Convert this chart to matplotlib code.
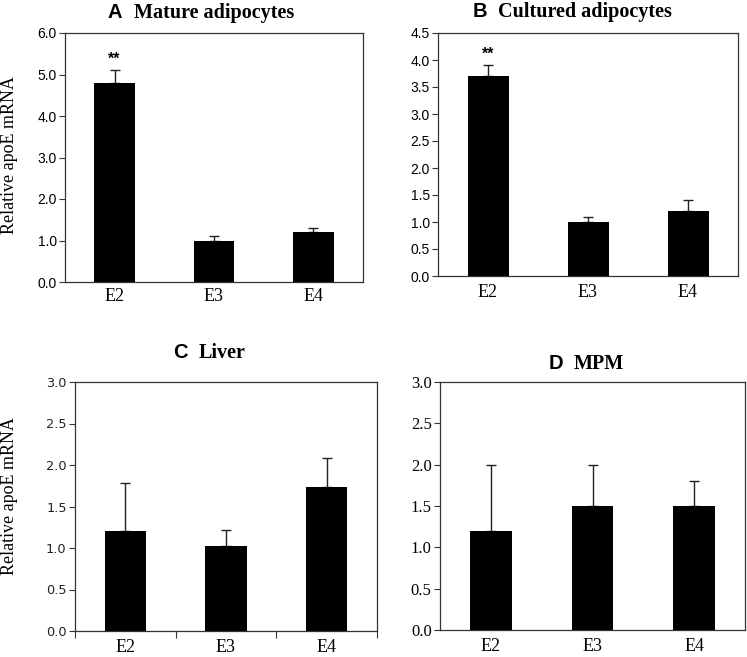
import matplotlib
matplotlib.use("Agg")
import matplotlib.pyplot as plt
import numpy as np

groups = ["E2", "E3", "E4"]
mature_vals = [4.8, 1.0, 1.2]
mature_err = [0.3, 0.1, 0.1]
cultured_vals = [3.7, 1.0, 1.2]
cultured_err = [0.2, 0.1, 0.2]
liver_vals = [1.2, 1.02, 1.73]
liver_err = [0.58, 0.2, 0.36]
mpm_vals = [1.2, 1.5, 1.5]
mpm_err = [0.8, 0.5, 0.3]

W, H = 747, 657
fig = plt.figure(figsize=(W / 100, H / 100), dpi=100)

def px_axes(l, r, t, b):
    return fig.add_axes([l / W, 1 - b / H, (r - l) / W, (b - t) / H])

def fx(x):
    return x / W

def fy(y):
    return 1 - y / H

SERIF = "Liberation Serif"
SANS = "Liberation Sans"

def panel(ax, vals, errs, ymax, step, tickfont, ticksize, xpad, xticks_marks=False,
          stars=False, tickcolor="black"):
    x = np.arange(len(groups))
    ax.bar(x, vals, width=0.41, color="black", zorder=3)
    ax.errorbar(x, vals, yerr=[np.zeros(len(vals)), errs], fmt="none",
                ecolor="#222222", elinewidth=1.0, capsize=3.5, capthick=1.0, zorder=2)
    ax.set_xlim(-0.5, 2.5)
    ax.set_ylim(0, ymax)
    yt = np.arange(0, ymax + step / 2, step)
    ax.set_yticks(yt)
    ax.set_yticklabels([f"{v:.1f}" for v in yt], fontfamily=tickfont, fontsize=ticksize, color=tickcolor)
    ax.tick_params(axis="y", direction="out", length=4, width=0.8, pad=2, color="#333333")
    ax.set_xticks(x)
    ax.set_xticklabels(groups, fontfamily=SERIF, fontsize=13)
    ax.tick_params(axis="x", length=0, pad=xpad)
    if xticks_marks:
        ax.set_xticks([-0.5, 0.5, 1.5, 2.5], minor=True)
        ax.tick_params(axis="x", which="minor", direction="out", length=5, width=0.8, color="#333333")
    for s in ax.spines.values():
        s.set_linewidth(0.9)
        s.set_color("#333333")
    if stars:
        ax.text(0, vals[0] + errs[0] + ymax * 0.015, "**", ha="center", va="bottom",
                fontfamily=SANS, fontsize=11.5, fontweight="bold")

axA = px_axes(65, 363, 33, 282)
panel(axA, mature_vals, mature_err, 6.0, 1.0, SANS, 10, 4.0, stars=True)
axB = px_axes(438, 738, 33, 276)
panel(axB, cultured_vals, cultured_err, 4.5, 0.5, SANS, 10, 5.5, stars=True)
axC = px_axes(75, 377, 382, 631)
panel(axC, liver_vals, liver_err, 3.0, 0.5, "DejaVu Sans", 9.3, 5.5, xticks_marks=True, tickcolor="#222222")
axD = px_axes(440, 745, 382, 630)
panel(axD, mpm_vals, mpm_err, 3.0, 0.5, SERIF, 12, 5.5)

def title(letter, name, xr, xl, ybase):
    fig.text(fx(xr), fy(ybase), letter, ha="right", va="baseline",
             fontfamily=SANS, fontweight="bold", fontsize=14.5)
    fig.text(fx(xl), fy(ybase), name, ha="left", va="baseline",
             fontfamily=SERIF, fontweight="bold", fontsize=14.5)

title("A", "Mature adipocytes", 122, 134, 18)
title("B", "Cultured adipocytes", 487, 498, 17)
title("C", "Liver", 188, 199, 358)
title("D", "MPM", 563, 574, 369)

fig.text(fx(10), fy(155), "Relative apoE mRNA", rotation=90, ha="center", va="center",
         fontfamily=SERIF, fontsize=13)
fig.text(fx(10), fy(496), "Relative apoE mRNA", rotation=90, ha="center", va="center",
         fontfamily=SERIF, fontsize=13)

fig.savefig("out.png", dpi=100, facecolor="white")
